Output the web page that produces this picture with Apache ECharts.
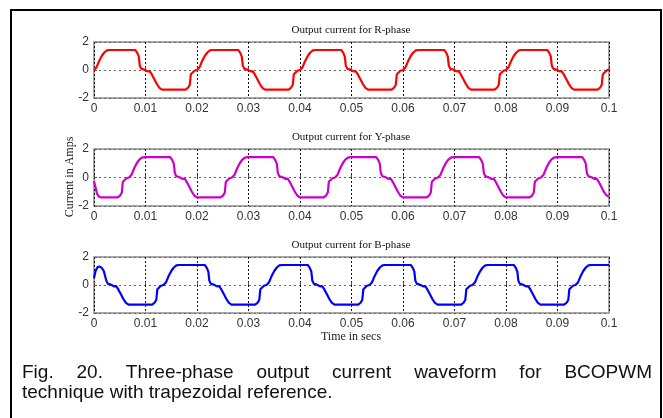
<!doctype html>
<html>
<head>
    <meta charset="utf-8">
    <title>Three-phase output current</title>
    <script src="https://cdn.jsdelivr.net/npm/echarts@6/dist/echarts.min.js"></script>
    <style>
        html, body { margin: 0; padding: 0; background: #fff; }
        #main { width: 663px; height: 418px; }
    </style>
</head>
<body>
<div id="main"></div>
<script>
    // x tick labels (seconds) and y tick labels (amps)
    const timeTicks = [0, 0.01, 0.02, 0.03, 0.04, 0.05, 0.06, 0.07, 0.08, 0.09, 0.1];
    const currentTicks = [-2, 0, 2];
    const phaseTitles = ['Output current for R-phase', 'Output current for Y-phase', 'Output current for B-phase'];

    // [time in secs, current in amps]
    const rPhase = [
        [0.0000, 0], [0.0005, 0.2], [0.0010, 0.65], [0.0015, 1.0], [0.0020, 1.25], [0.0025, 1.4], [0.0030, 1.43],
        [0.0080, 1.43], [0.0084, 1.22], [0.0087, 0.95], [0.0089, 0.3], [0.0092, 0.08], [0.0096, 0.05], [0.0100, -0.02],
        [0.0104, -0.1], [0.0108, -0.08], [0.0112, -0.3], [0.0117, -0.65], [0.0122, -1.0], [0.0127, -1.28], [0.0132, -1.4],
        [0.0178, -1.4], [0.0183, -1.25], [0.0186, -1.05], [0.0188, -0.3], [0.0191, -0.18], [0.0195, -0.05], [0.0198, -0.02],
        [0.0200, 0], [0.0205, 0.2], [0.0210, 0.65], [0.0215, 1.0], [0.0220, 1.25], [0.0225, 1.4], [0.0230, 1.43],
        [0.0280, 1.43], [0.0284, 1.22], [0.0287, 0.95], [0.0289, 0.3], [0.0292, 0.08], [0.0296, 0.05], [0.0300, -0.02],
        [0.0304, -0.1], [0.0308, -0.08], [0.0312, -0.3], [0.0317, -0.65], [0.0322, -1.0], [0.0327, -1.28], [0.0332, -1.4],
        [0.0378, -1.4], [0.0383, -1.25], [0.0386, -1.05], [0.0388, -0.3], [0.0391, -0.18], [0.0395, -0.05], [0.0398, -0.02],
        [0.0400, 0], [0.0405, 0.2], [0.0410, 0.65], [0.0415, 1.0], [0.0420, 1.25], [0.0425, 1.4], [0.0430, 1.43],
        [0.0480, 1.43], [0.0484, 1.22], [0.0487, 0.95], [0.0489, 0.3], [0.0492, 0.08], [0.0496, 0.05], [0.0500, -0.02],
        [0.0504, -0.1], [0.0508, -0.08], [0.0512, -0.3], [0.0517, -0.65], [0.0522, -1.0], [0.0527, -1.28], [0.0532, -1.4],
        [0.0578, -1.4], [0.0583, -1.25], [0.0586, -1.05], [0.0588, -0.3], [0.0591, -0.18], [0.0595, -0.05], [0.0598, -0.02],
        [0.0600, 0], [0.0605, 0.2], [0.0610, 0.65], [0.0615, 1.0], [0.0620, 1.25], [0.0625, 1.4], [0.0630, 1.43],
        [0.0680, 1.43], [0.0684, 1.22], [0.0687, 0.95], [0.0689, 0.3], [0.0692, 0.08], [0.0696, 0.05], [0.0700, -0.02],
        [0.0704, -0.1], [0.0708, -0.08], [0.0712, -0.3], [0.0717, -0.65], [0.0722, -1.0], [0.0727, -1.28], [0.0732, -1.4],
        [0.0778, -1.4], [0.0783, -1.25], [0.0786, -1.05], [0.0788, -0.3], [0.0791, -0.18], [0.0795, -0.05], [0.0798, -0.02],
        [0.0800, 0], [0.0805, 0.2], [0.0810, 0.65], [0.0815, 1.0], [0.0820, 1.25], [0.0825, 1.4], [0.0830, 1.43],
        [0.0880, 1.43], [0.0884, 1.22], [0.0887, 0.95], [0.0889, 0.3], [0.0892, 0.08], [0.0896, 0.05], [0.0900, -0.02],
        [0.0904, -0.1], [0.0908, -0.08], [0.0912, -0.3], [0.0917, -0.65], [0.0922, -1.0], [0.0927, -1.28], [0.0932, -1.4],
        [0.0978, -1.4], [0.0983, -1.25], [0.0986, -1.05], [0.0988, -0.3], [0.0991, -0.18], [0.0995, -0.05], [0.0998, -0.02],
        [0.1000, 0.05]
    ];

    const yPhase = [
        [0.0000, -0.25], [0.0003, -0.7], [0.0006, -1.15], [0.0010, -1.35], [0.0014, -1.4],
        [0.0046, -1.4], [0.0051, -1.25], [0.0054, -1.05], [0.0056, -0.3], [0.0059, -0.18], [0.0063, -0.05], [0.0066, -0.02],
        [0.0068, 0], [0.0073, 0.2], [0.0078, 0.65], [0.0083, 1.0], [0.0088, 1.25], [0.0093, 1.4], [0.0098, 1.43],
        [0.0148, 1.43], [0.0152, 1.22], [0.0155, 0.95], [0.0157, 0.3], [0.0160, 0.08], [0.0164, 0.05], [0.0168, -0.02],
        [0.0172, -0.1], [0.0176, -0.08], [0.0180, -0.3], [0.0185, -0.65], [0.0190, -1.0], [0.0195, -1.28], [0.0200, -1.4],
        [0.0246, -1.4], [0.0251, -1.25], [0.0254, -1.05], [0.0256, -0.3], [0.0259, -0.18], [0.0263, -0.05], [0.0266, -0.02],
        [0.0268, 0], [0.0273, 0.2], [0.0278, 0.65], [0.0283, 1.0], [0.0288, 1.25], [0.0293, 1.4], [0.0298, 1.43],
        [0.0348, 1.43], [0.0352, 1.22], [0.0355, 0.95], [0.0357, 0.3], [0.0360, 0.08], [0.0364, 0.05], [0.0368, -0.02],
        [0.0372, -0.1], [0.0376, -0.08], [0.0380, -0.3], [0.0385, -0.65], [0.0390, -1.0], [0.0395, -1.28], [0.0400, -1.4],
        [0.0446, -1.4], [0.0451, -1.25], [0.0454, -1.05], [0.0456, -0.3], [0.0459, -0.18], [0.0463, -0.05], [0.0466, -0.02],
        [0.0468, 0], [0.0473, 0.2], [0.0478, 0.65], [0.0483, 1.0], [0.0488, 1.25], [0.0493, 1.4], [0.0498, 1.43],
        [0.0548, 1.43], [0.0552, 1.22], [0.0555, 0.95], [0.0557, 0.3], [0.0560, 0.08], [0.0564, 0.05], [0.0568, -0.02],
        [0.0572, -0.1], [0.0576, -0.08], [0.0580, -0.3], [0.0585, -0.65], [0.0590, -1.0], [0.0595, -1.28], [0.0600, -1.4],
        [0.0646, -1.4], [0.0651, -1.25], [0.0654, -1.05], [0.0656, -0.3], [0.0659, -0.18], [0.0663, -0.05], [0.0666, -0.02],
        [0.0668, 0], [0.0673, 0.2], [0.0678, 0.65], [0.0683, 1.0], [0.0688, 1.25], [0.0693, 1.4], [0.0698, 1.43],
        [0.0748, 1.43], [0.0752, 1.22], [0.0755, 0.95], [0.0757, 0.3], [0.0760, 0.08], [0.0764, 0.05], [0.0768, -0.02],
        [0.0772, -0.1], [0.0776, -0.08], [0.0780, -0.3], [0.0785, -0.65], [0.0790, -1.0], [0.0795, -1.28], [0.0800, -1.4],
        [0.0846, -1.4], [0.0851, -1.25], [0.0854, -1.05], [0.0856, -0.3], [0.0859, -0.18], [0.0863, -0.05], [0.0866, -0.02],
        [0.0868, 0], [0.0873, 0.2], [0.0878, 0.65], [0.0883, 1.0], [0.0888, 1.25], [0.0893, 1.4], [0.0898, 1.43],
        [0.0948, 1.43], [0.0952, 1.22], [0.0955, 0.95], [0.0957, 0.3], [0.0960, 0.08], [0.0964, 0.05], [0.0968, -0.02],
        [0.0972, -0.1], [0.0976, -0.08], [0.0980, -0.3], [0.0985, -0.65], [0.0990, -1.0], [0.0995, -1.25], [0.1000, -1.35]
    ];

    const bPhase = [
        [0.0000, 0.5], [0.0003, 1.0], [0.0007, 1.28], [0.0011, 1.32], [0.0015, 1.22], [0.0019, 1.0], [0.0022, 0.9],
        [0.0024, 0.3], [0.0027, 0.08], [0.0031, 0.05], [0.0035, -0.02], [0.0039, -0.1], [0.0043, -0.08],
        [0.0047, -0.3], [0.0052, -0.65], [0.0057, -1.0], [0.0062, -1.28], [0.0067, -1.4],
        [0.0113, -1.4], [0.0118, -1.25], [0.0121, -1.05], [0.0123, -0.3], [0.0126, -0.18], [0.0130, -0.05], [0.0133, -0.02],
        [0.0135, 0], [0.0140, 0.2], [0.0145, 0.65], [0.0150, 1.0], [0.0155, 1.25], [0.0160, 1.4], [0.0165, 1.43],
        [0.0215, 1.43], [0.0219, 1.22], [0.0222, 0.95], [0.0224, 0.3], [0.0227, 0.08], [0.0231, 0.05], [0.0235, -0.02],
        [0.0239, -0.1], [0.0243, -0.08], [0.0247, -0.3], [0.0252, -0.65], [0.0257, -1.0], [0.0262, -1.28], [0.0267, -1.4],
        [0.0313, -1.4], [0.0318, -1.25], [0.0321, -1.05], [0.0323, -0.3], [0.0326, -0.18], [0.0330, -0.05], [0.0333, -0.02],
        [0.0335, 0], [0.0340, 0.2], [0.0345, 0.65], [0.0350, 1.0], [0.0355, 1.25], [0.0360, 1.4], [0.0365, 1.43],
        [0.0415, 1.43], [0.0419, 1.22], [0.0422, 0.95], [0.0424, 0.3], [0.0427, 0.08], [0.0431, 0.05], [0.0435, -0.02],
        [0.0439, -0.1], [0.0443, -0.08], [0.0447, -0.3], [0.0452, -0.65], [0.0457, -1.0], [0.0462, -1.28], [0.0467, -1.4],
        [0.0513, -1.4], [0.0518, -1.25], [0.0521, -1.05], [0.0523, -0.3], [0.0526, -0.18], [0.0530, -0.05], [0.0533, -0.02],
        [0.0535, 0], [0.0540, 0.2], [0.0545, 0.65], [0.0550, 1.0], [0.0555, 1.25], [0.0560, 1.4], [0.0565, 1.43],
        [0.0615, 1.43], [0.0619, 1.22], [0.0622, 0.95], [0.0624, 0.3], [0.0627, 0.08], [0.0631, 0.05], [0.0635, -0.02],
        [0.0639, -0.1], [0.0643, -0.08], [0.0647, -0.3], [0.0652, -0.65], [0.0657, -1.0], [0.0662, -1.28], [0.0667, -1.4],
        [0.0713, -1.4], [0.0718, -1.25], [0.0721, -1.05], [0.0723, -0.3], [0.0726, -0.18], [0.0730, -0.05], [0.0733, -0.02],
        [0.0735, 0], [0.0740, 0.2], [0.0745, 0.65], [0.0750, 1.0], [0.0755, 1.25], [0.0760, 1.4], [0.0765, 1.43],
        [0.0815, 1.43], [0.0819, 1.22], [0.0822, 0.95], [0.0824, 0.3], [0.0827, 0.08], [0.0831, 0.05], [0.0835, -0.02],
        [0.0839, -0.1], [0.0843, -0.08], [0.0847, -0.3], [0.0852, -0.65], [0.0857, -1.0], [0.0862, -1.28], [0.0867, -1.4],
        [0.0913, -1.4], [0.0918, -1.25], [0.0921, -1.05], [0.0923, -0.3], [0.0926, -0.18], [0.0930, -0.05], [0.0933, -0.02],
        [0.0935, 0], [0.0940, 0.2], [0.0945, 0.65], [0.0950, 1.0], [0.0955, 1.25], [0.0960, 1.4], [0.0965, 1.43],
        [0.1000, 1.43]
    ];

    const phaseData = [rPhase, yPhase, bPhase];
    const phaseColors = ['#ff0000', '#cc00cc', '#0000ff'];

    // 三个子图的位置
    const gridTops = [42, 149, 257];
    const gridHeights = [56, 57, 56];

    const chart = echarts.init(document.getElementById('main'), null, {renderer: 'canvas'});

    const grid = [], xAxis = [], yAxis = [], series = [], graphic = [];

    for (let i = 0; i < 3; i++) {
        grid.push({
            left: 94, right: 54, top: gridTops[i], height: gridHeights[i],
            show: true, borderColor: '#8a8a8a', borderWidth: 1.5, backgroundColor: '#fff'
        });
        xAxis.push({
            type: 'value', gridIndex: i,
            min: timeTicks[0], max: timeTicks[timeTicks.length - 1], interval: 0.01,
            axisLine: {show: false},
            axisTick: {show: true, inside: true, length: 3, lineStyle: {color: '#555'}},
            axisLabel: {
                fontFamily: 'Liberation Sans', fontSize: 12, color: '#333', margin: 5,
                formatter: v => String(parseFloat(v.toFixed(2)))
            },
            splitLine: {show: true, lineStyle: {type: [2, 2], color: '#111', width: 1}}
        });
        yAxis.push({
            type: 'value', gridIndex: i,
            min: currentTicks[0], max: currentTicks[2], interval: 2,
            axisLine: {show: false},
            axisTick: {show: true, inside: true, length: 3, lineStyle: {color: '#555'}},
            axisLabel: {fontFamily: 'Liberation Sans', fontSize: 12, color: '#333', margin: 5},
            splitLine: {show: true, lineStyle: {type: [2, 3], color: '#666', width: 1}}
        });
        series.push({
            type: 'line', xAxisIndex: i, yAxisIndex: i,
            data: phaseData[i],
            showSymbol: false,
            lineStyle: {color: phaseColors[i], width: 2.2},
            itemStyle: {color: phaseColors[i]},
            animation: false
        });
        graphic.push({
            type: 'text', x: 351, y: gridTops[i] - 12,
            style: {
                text: phaseTitles[i], fontFamily: 'Liberation Serif', fontSize: 11, fill: '#111',
                align: 'center', verticalAlign: 'middle'
            }
        });
    }

    // 外框
    graphic.push({
        type: 'rect', shape: {x: 11, y: 10, width: 650, height: 420},
        style: {fill: 'none', stroke: '#000', lineWidth: 2}, z: 10
    });
    // 轴名称
    graphic.push({
        type: 'text', x: 70, y: 177, rotation: Math.PI / 2,
        style: {
            text: 'Current in Amps', fontFamily: 'Liberation Serif', fontSize: 12, fill: '#222',
            align: 'center', verticalAlign: 'middle'
        }
    });
    graphic.push({
        type: 'text', x: 351, y: 337,
        style: {
            text: 'Time in secs', fontFamily: 'Liberation Serif', fontSize: 12, fill: '#222',
            align: 'center', verticalAlign: 'middle'
        }
    });

    // 图注, 第一行两端对齐 (22 到 652)
    const captionFont = '19px "Liberation Sans"';
    const captionWords = ['Fig.', '20.', 'Three-phase', 'output', 'current', 'waveform', 'for', 'BCOPWM'];
    const ctx = document.createElement('canvas').getContext('2d');
    ctx.font = captionFont;
    const wordWidths = captionWords.map(w => ctx.measureText(w).width);
    const totalWords = wordWidths.reduce((a, b) => a + b, 0);
    const gap = (652 - 22 - totalWords) / (captionWords.length - 1);
    let cx = 22;
    captionWords.forEach((w, k) => {
        graphic.push({
            type: 'text', x: cx, y: 373,
            style: {
                text: w, fontFamily: 'Liberation Sans', fontSize: 19, fill: '#111',
                align: 'left', verticalAlign: 'middle'
            }
        });
        cx += wordWidths[k] + gap;
    });
    graphic.push({
        type: 'text', x: 22, y: 393,
        style: {
            text: 'technique with trapezoidal reference.', fontFamily: 'Liberation Sans', fontSize: 19,
            fill: '#111', align: 'left', verticalAlign: 'middle'
        }
    });

    chart.setOption({
        animation: false,
        grid: grid,
        xAxis: xAxis,
        yAxis: yAxis,
        series: series,
        graphic: graphic
    });
</script>
</body>
</html>
